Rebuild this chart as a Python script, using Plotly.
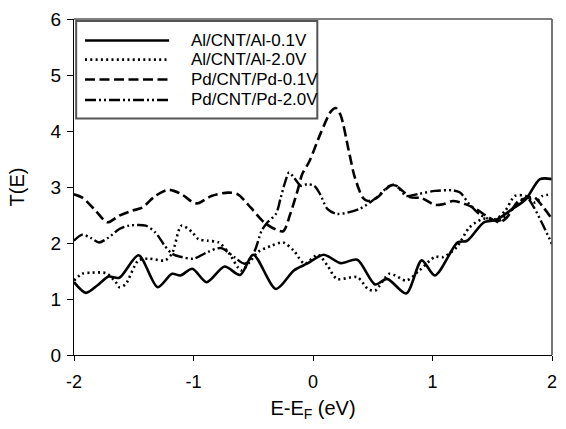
import plotly.graph_objects as go

# ---- data ----
names = ["Al/CNT/Al-0.1V", "Al/CNT/Al-2.0V", "Pd/CNT/Pd-0.1V", "Pd/CNT/Pd-2.0V"]

al01_x = [-2.0, -1.90, -1.80, -1.71, -1.62, -1.46, -1.30, -1.18, -1.11, -1.01, -0.89, -0.74, -0.61, -0.50,
          -0.31, -0.16, -0.05, 0.09, 0.23, 0.37, 0.52, 0.62, 0.78, 0.91, 1.02, 1.21, 1.29, 1.43, 1.53, 1.67,
          1.78, 1.90, 2.0]
al01_y = [1.30, 1.11, 1.25, 1.40, 1.38, 1.78, 1.21, 1.45, 1.42, 1.54, 1.30, 1.58, 1.43, 1.79,
          1.18, 1.51, 1.63, 1.79, 1.64, 1.70, 1.26, 1.36, 1.10, 1.69, 1.42, 2.01, 2.04, 2.37, 2.41, 2.61,
          2.78, 3.14, 3.14]

al20_x = [-2.0, -1.93, -1.85, -1.73, -1.65, -1.62, -1.57, -1.46, -1.37, -1.24, -1.18, -1.10, -1.01, -0.96,
          -0.88, -0.79, -0.71, -0.60, -0.53, -0.46, -0.35, -0.25, -0.16, -0.07, 0.04, 0.12, 0.20, 0.37,
          0.46, 0.52, 0.64, 0.78, 0.89, 1.02, 1.09, 1.20, 1.31, 1.42, 1.53, 1.61, 1.69, 1.78, 1.86, 1.92, 2.0]
al20_y = [1.33, 1.45, 1.47, 1.46, 1.30, 1.21, 1.26, 1.69, 1.72, 1.69, 1.81, 2.31, 2.19, 2.07,
          2.04, 2.01, 1.84, 1.51, 1.66, 1.84, 1.95, 2.01, 1.86, 1.63, 1.79, 1.60, 1.36, 1.39,
          1.18, 1.15, 1.45, 1.33, 1.51, 1.75, 1.75, 1.92, 2.28, 2.43, 2.43, 2.58, 2.84, 2.84, 2.72, 2.84, 2.87]

pd01_x = [-2.0, -1.93, -1.82, -1.72, -1.62, -1.51, -1.43, -1.32, -1.21, -1.10, -1.00, -0.96, -0.85, -0.71,
          -0.63, -0.52, -0.41, -0.32, -0.25, -0.19, -0.13, -0.09, -0.03, 0.06, 0.15, 0.19, 0.23, 0.30, 0.35,
          0.42, 0.46, 0.53, 0.62, 0.67, 0.75, 0.81, 0.91, 1.02, 1.10, 1.17, 1.28, 1.36, 1.47, 1.56, 1.62,
          1.72, 1.80, 1.85, 1.93, 2.0]
pd01_y = [2.87, 2.81, 2.58, 2.37, 2.49, 2.58, 2.63, 2.84, 2.95, 2.87, 2.72, 2.71, 2.84, 2.90,
          2.87, 2.63, 2.37, 2.25, 2.21, 2.52, 2.93, 3.23, 3.46, 3.94, 4.35, 4.41, 4.29, 3.64, 3.17,
          2.80, 2.75, 2.80, 2.98, 3.04, 2.93, 2.82, 2.80, 2.68, 2.70, 2.75, 2.69, 2.61, 2.46, 2.37, 2.45,
          2.75, 2.81, 2.82, 2.63, 2.43]

pd20_x = [-2.0, -1.93, -1.86, -1.79, -1.71, -1.62, -1.54, -1.40, -1.32, -1.24, -1.18, -1.10, -1.00, -0.88,
          -0.77, -0.66, -0.57, -0.49, -0.43, -0.38, -0.31, -0.27, -0.23, -0.20, -0.16, -0.10, -0.05, 0.01,
          0.06, 0.12, 0.20, 0.39, 0.53, 0.64, 0.70, 0.78, 0.89, 1.02, 1.17, 1.23, 1.31, 1.39, 1.47, 1.56,
          1.64, 1.72, 1.79, 1.85, 1.92, 2.0]
pd20_y = [2.04, 2.15, 2.09, 2.01, 2.10, 2.25, 2.31, 2.31, 2.19, 1.95, 1.81, 1.75, 1.72, 1.84,
          1.91, 1.75, 1.63, 1.85, 2.22, 2.37, 2.52, 2.81, 3.11, 3.26, 3.17, 3.02, 3.05, 3.02,
          2.87, 2.61, 2.52, 2.61, 2.81, 3.02, 3.02, 2.84, 2.88, 2.93, 2.94, 2.90, 2.69, 2.52, 2.43, 2.40,
          2.55, 2.72, 2.81, 2.63, 2.34, 1.98]

x_ticks = [-2, -1, 0, 1, 2]
x_tick_labels = ["-2", "-1", "0", "1", "2"]
y_ticks = [0, 1, 2, 3, 4, 5, 6]
y_tick_labels = ["0", "1", "2", "3", "4", "5", "6"]

# ---- styles ----
dashes = ["solid", "2px,3.3px", "10px,4.5px", "11px,3px,2px,3px,2px,3px"]
widths = [2.6, 2.6, 2.6, 2.4]
FONT = "Liberation Sans, Arial, sans-serif"

series = [(al01_x, al01_y), (al20_x, al20_y), (pd01_x, pd01_y), (pd20_x, pd20_y)]

fig = go.Figure()
for (xs, ys), nm, d, w in zip(series, names, dashes, widths):
    fig.add_trace(go.Scatter(x=xs, y=ys, mode="lines", name=nm,
                             line=dict(color="black", width=w, dash=d, shape="spline", smoothing=0.8),
                             showlegend=False))

fig.update_layout(
    width=566, height=429,
    margin=dict(l=74, r=9, t=17, b=74),
    paper_bgcolor="white", plot_bgcolor="white",
    font=dict(family=FONT, color="black", size=18),
    xaxis=dict(range=[-2, 2], tickvals=x_ticks, ticktext=x_tick_labels, ticks="outside", ticklen=5,
               tickwidth=1.2, tickcolor="black", showline=True, linecolor="black", linewidth=1.3,
               showgrid=False, zeroline=False, tickfont=dict(size=18), ticklabelstandoff=5,
               title=dict(text="E-E<sub>F</sub> (eV)", font=dict(size=20), standoff=10)),
    yaxis=dict(range=[0, 6], tickvals=y_ticks, ticktext=y_tick_labels, ticks="outside", ticklen=6,
               tickwidth=1.2, tickcolor="black", showline=True, linecolor="black", linewidth=1.3,
               showgrid=False, zeroline=False, tickfont=dict(size=19), ticklabelstandoff=2,
               title=dict(text="T(E)", font=dict(size=20), standoff=20)),
)

# plot frame top/right (gray)
fig.add_shape(type="line", xref="paper", yref="paper", x0=0, x1=1, y0=1, y1=1,
              line=dict(color="#555555", width=1.6))
fig.add_shape(type="line", xref="paper", yref="paper", x0=1, x1=1, y0=0, y1=1,
              line=dict(color="#555555", width=1.6))

# legend box drawn by hand to reproduce the long line samples
fig.add_shape(type="rect", xref="paper", yref="paper", x0=0.0045, x1=0.509, y0=0.704, y1=0.994,
              line=dict(color="#555555", width=2), fillcolor="white", layer="above")
rows = [0.936, 0.879, 0.820, 0.759]
for nm, d, w, ry in zip(names, dashes, widths, rows):
    fig.add_shape(type="line", xref="paper", yref="paper", x0=0.023, x1=0.199, y0=ry, y1=ry,
                  line=dict(color="black", width=w, dash=d), layer="above")
    fig.add_annotation(text=nm, xref="paper", yref="paper", x=0.240, y=ry, xanchor="left",
                       yanchor="middle", showarrow=False, font=dict(size=17, family=FONT))

fig.write_html("out.html")
